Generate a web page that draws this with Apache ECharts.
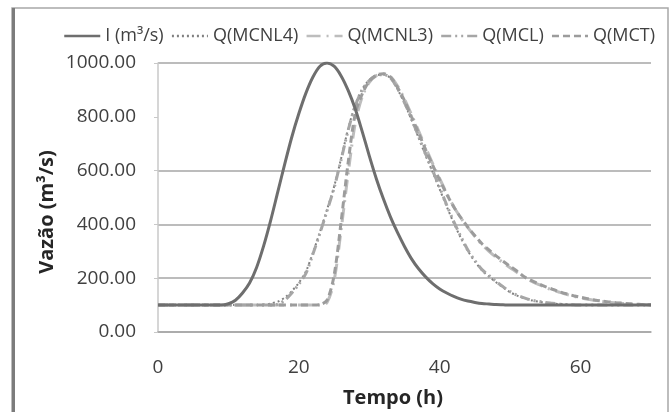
<!DOCTYPE html>
<html>
<head>
<meta charset="utf-8">
<script src="https://cdn.jsdelivr.net/npm/echarts@6/dist/echarts.min.js"></script>
<style>html,body{margin:0;padding:0;background:#fff}#c{width:671px;height:412px}</style>
</head>
<body>
<div id="c"></div>
<script>
const hours = [0,1,2,3,4,5,6,7,8,9,10,11,12,13,14,15,16,17,18,19,20,21,22,23,24,25,26,27,28,29,30,31,32,33,34,35,36,37,38,39,40,41,42,43,44,45,46,47,48,49,50,51,52,53,54,55,56,57,58,59,60,61,62,63,64,65,66,67,68,69,70];
const seriesNames = ['I (m³/s)','Q(MCNL4)','Q(MCNL3)','Q(MCL)','Q(MCT)'];
const qI = [100,100,100,100,100,100,100,100,100,100,
  105,118,145,182,240,320,415,520,625,725,812,888,948,988,1000,988,952,898,830,745,655,570,495,428,370,318,272,235,205,180,160,145,132,122,115,110,106,104,102,101,
  100,100,100,100,100,100,100,100,100,100,100,100,100,100,100,100,100,100,100,100,100];
const qMCNL4 = [100,100,100,100,100,100,100,100,100,100,100,100,100,100,100,
  102,106,113,128,152,183,225,295,372,455,540,645,755,845,903,937,954,957,944,903,850,788,722,656,594,530,466,405,350,301,262,229,206,185,165,148,135,125,118,113,109,106,104,102,101,
  100,100,100,100,100,100,100,100,100,100,100];
const qMCNL3 = [100,100,100,100,100,100,100,100,100,100,100,100,100,100,100,100,100,100,100,100,100,100,100,100,
  110,190,380,590,775,875,928,953,960,950,915,866,808,748,686,626,570,515,466,424,388,355,325,300,278,258,239,221,202,189,177,166,156,148,140,133,127,122,118,114,111,108,106,104,103,102,101];
const qMCL = [100,100,100,100,100,100,100,100,100,100,100,100,100,100,100,100,100,
  103,118,145,178,218,290,368,450,535,640,750,840,900,935,953,957,945,905,853,792,727,662,600,537,472,410,355,305,265,232,210,188,168,150,137,127,119,114,110,107,104,102,101,
  100,100,100,100,100,100,100,100,100,100,100];
const qMCT = [100,100,100,100,100,100,100,100,100,100,100,100,100,100,100,100,100,100,100,100,100,100,100,
  102,118,210,410,630,810,885,932,955,960,948,910,860,800,740,678,620,565,512,465,425,390,358,328,305,283,263,244,226,205,192,180,169,159,150,142,135,129,124,119,115,112,109,107,105,103,102,101];
const yTicks = [0,200,400,600,800,1000];
const xTicks = [0,20,40,60];

const valueSets = [qI,qMCNL4,qMCNL3,qMCL,qMCT];
const styles = [
  {color:'#6e6e6e', width:3, type:'solid'},
  {color:'#808080', width:2, type:[2,3]},
  {color:'#bdbdbd', width:3, type:[14,6,2,6]},
  {color:'#a6a6a6', width:3, type:[10,4,2,4,2,4]},
  {color:'#9c9c9c', width:3, type:[7,4]}
];
const z = [10,6,7,8,9];
const series = seriesNames.map((n,i)=>({
  name:n, type:'line', symbol:'none', showSymbol:false, smooth:0.3,
  data: hours.map((h,k)=>[h, valueSets[i][k]]),
  lineStyle: styles[i], itemStyle:{color:styles[i].color}, z:z[i]
}));

const chart = echarts.init(document.getElementById('c'), null, {renderer:'canvas'});
const FONT = '"Open Sans", "Noto Sans", sans-serif';
chart.setOption({
  animation:false,
  backgroundColor:'#fff',
  grid:{left:158, right:20, top:63, bottom:80, containLabel:false},
  legend:{
    data:seriesNames, left:58, top:22, itemWidth:36, itemHeight:14, itemGap:7,
    itemStyle:{color:'rgba(0,0,0,0)', borderWidth:0, opacity:0},
    lineStyle:{width:2.5},
    textStyle:{fontFamily:FONT, fontSize:18, color:'#404040'}
  },
  xAxis:{
    type:'value', min:0, max:70, interval:20,
    axisLine:{show:true, lineStyle:{color:'#a6a6a6', width:1.5}},
    axisTick:{show:false},
    splitLine:{show:false},
    axisLabel:{fontFamily:FONT, fontSize:19, color:'#404040', margin:26,
      formatter:v=> xTicks.indexOf(v)>=0 ? String(v) : ''}
  },
  yAxis:{
    type:'value', min:0, max:1000, interval:200,
    axisLine:{show:true, lineStyle:{color:'#c8c8c8', width:1.5}},
    axisTick:{show:true, length:4, lineStyle:{color:'#c8c8c8'}},
    splitLine:{show:true, lineStyle:{width:1.5, color:['#a6a6a6','#a6a6a6','#a6a6a6','#a6a6a6','rgba(0,0,0,0)','#a6a6a6']}},
    axisLabel:{fontFamily:FONT, fontSize:19, color:'#404040', margin:22,
      formatter:v=> yTicks.indexOf(v)>=0 ? v.toFixed(2) : ''}
  },
  graphic:[
    {type:'rect', shape:{x:12, y:8, width:656, height:430}, style:{fill:'none', stroke:'#a8a8a8', lineWidth:1.5}, silent:true},
    {type:'line', shape:{x1:13.5, y1:8, x2:13.5, y2:412}, style:{stroke:'#7c7c7c', lineWidth:3}, silent:true},
    {type:'text', x:47, y:212, rotation:Math.PI/2, style:{text:'Vazão (m³/s)', fontFamily:FONT, fontSize:20, fontWeight:'bold', fill:'#262626', align:'center', verticalAlign:'middle'}},
    {type:'text', x:393, y:398, style:{text:'Tempo (h)', fontFamily:FONT, fontSize:20, fontWeight:'bold', fill:'#262626', align:'center', verticalAlign:'middle'}}
  ],
  series:series
});
</script>
</body>
</html>
